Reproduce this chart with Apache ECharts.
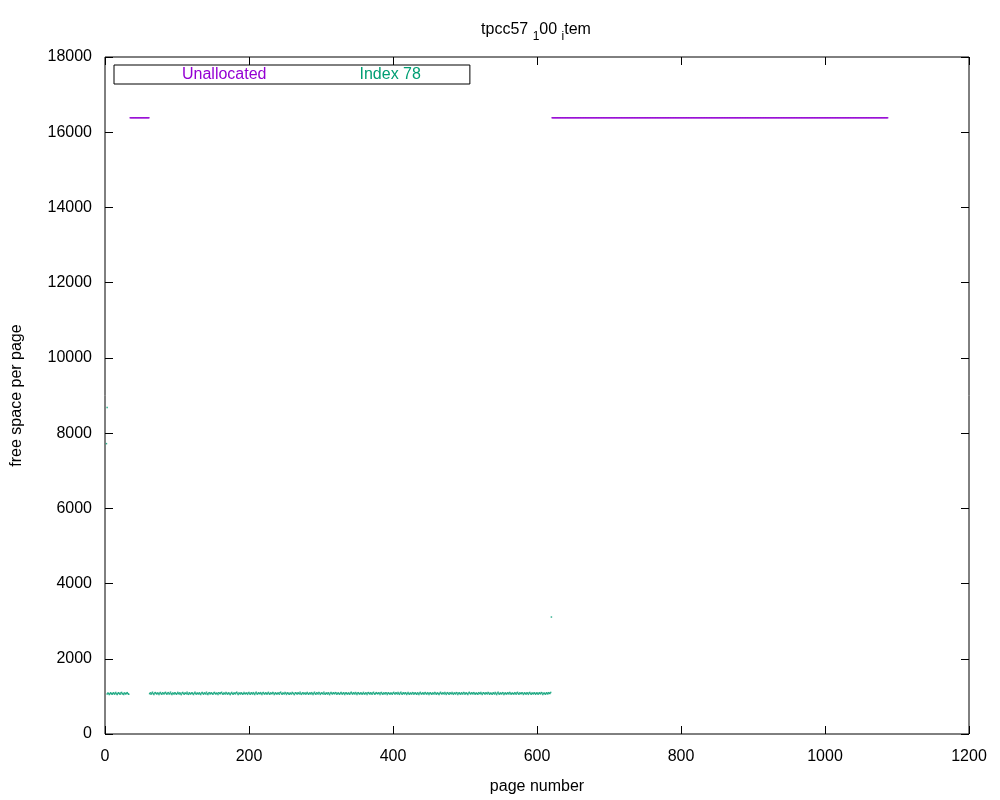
<!DOCTYPE html>
<html>
<head>
<meta charset="utf-8">
<script src="https://cdn.jsdelivr.net/npm/echarts@6/dist/echarts.min.js"></script>
<style>html,body{margin:0;padding:0;background:#fff}#c{width:1000px;height:800px}</style>
</head>
<body>
<div id="c"></div>
<script>
// ---- data ----
var xTicks = [0, 200, 400, 600, 800, 1000, 1200];
var yTicks = [0, 2000, 4000, 6000, 8000, 10000, 12000, 14000, 16000, 18000];

// Unallocated pages (free space 16384 on each page of these page ranges)
var unallocatedRanges = [[35, 61], [621, 1087]];
var unallocatedValue = 16384;

// Index 78: first segment starts at page 3, second at page 62
var index78StartA = 3;
var index78ValuesA = [1065,1090,1075,1050,1080,1100,1070,1055,1085,1095,1060,1078,1102,1068,1049,1083,1097,1072,1058,1088,1105,1066,1079,1051,1092,1074,1061,1086,1099,1070,1057];
var index78StartB = 62;
var index78ValuesB = [
1072,1095,1060,1084,1110,1068,1052,1089,1101,1075,1063,1092,1079,1048,1086,1104,1071,1059,1097,1082,
1066,1093,1108,1074,1055,1087,1099,1062,1080,1112,1069,1051,1090,1077,1064,1098,1085,1058,1073,1106,
1081,1061,1094,1070,1047,1088,1102,1076,1057,1091,1083,1067,1109,1072,1054,1096,1079,1063,1087,1100,
1068,1050,1085,1107,1074,1060,1093,1080,1065,1097,1071,1053,1089,1103,1077,1058,1092,1084,1066,1110,
1073,1049,1086,1098,1062,1081,1095,1069,1056,1090,1105,1075,1061,1088,1078,1052,1099,1083,1067,1094,
1108,1070,1055,1091,1079,1064,1101,1087,1059,1076,1096,1068,1048,1085,1104,1072,1060,1093,1082,1065,
1098,1111,1074,1051,1089,1080,1063,1097,1086,1057,1071,1102,1077,1066,1092,1083,1054,1088,1106,1069,
1058,1094,1081,1062,1099,1075,1050,1087,1109,1073,1061,1095,1084,1067,1100,1078,1053,1090,1103,1071,
1064,1096,1082,1056,1085,1107,1072,1059,1093,1080,1068,1101,1088,1049,1076,1097,1070,1062,1091,1084,
1055,1098,1112,1074,1060,1089,1079,1066,1102,1086,1052,1083,1095,1069,1057,1092,1078,1063,1105,1087,
1071,1048,1090,1100,1075,1061,1094,1081,1067,1108,1073,1054,1088,1097,1065,1079,1093,1059,1084,1104,
1070,1056,1091,1083,1062,1099,1077,1050,1086,1110,1068,1060,1096,1082,1064,1101,1089,1053,1076,1093,
1080,1066,1107,1072,1058,1092,1085,1061,1098,1079,1047,1087,1103,1074,1063,1095,1081,1068,1100,1088,
1055,1077,1094,1069,1059,1090,1106,1073,1062,1097,1083,1051,1085,1099,1071,1064,1093,1078,1057,1089,
1109,1075,1060,1096,1084,1066,1102,1080,1052,1088,1098,1070,1061,1092,1086,1054,1079,1105,1073,1065,
1094,1082,1049,1087,1101,1074,1063,1097,1078,1058,1091,1108,1071,1056,1085,1100,1076,1067,1095,1083,
1053,1089,1104,1072,1060,1093,1081,1066,1099,1087,1050,1084,1096,1069,1062,1092,1079,1057,1090,1106,
1074,1061,1097,1085,1064,1101,1077,1055,1088,1110,1070,1059,1094,1083,1065,1098,1086,1051,1080,1103,
1072,1058,1091,1079,1063,1100,1089,1054,1082,1095,1068,1060,1096,1076,1048,1087,1107,1073,1066,1093,
1084,1056,1090,1102,1071,1062,1098,1081,1052,1085,1097,1067,1059,1092,1080,1064,1104,1088,1057,1078,
1095,1070,1049,1086,1109,1075,1061,1093,1083,1065,1101,1079,1053,1089,1099,1072,1058,1094,1082,1068,
1106,1077,1055,1091,1085,1063,1100,1087,1051,1080,1096,1069,1060,1097,1078,1066,1103,1090,1056,1083,
1094,1071,1050,1088,1108,1074,1062,1095,1081,1064,1099,1086,1054,1079,1092,1067,1059,1098,1084,1070,
1105,1076,1052,1089,1097,1073,1061,1094,1082,1065,1102,1088,1057,1077,1093,1068,1058,1096,1085,1063,
1101,1079,1048,1087,1110,1072,1060,1092,1080,1066,1099,1090,1053,1075,1095,1069,1061,1097,1083,1064,
1104,1086,1055,1078,1091,1071,1062,1098,1084,1058,1089,1107,1073,1059,1093,1081,1067,1100,1088,1052,
1076,1096,1070,1063,1094,1082,1054,1087,1103,1074,1060,1091,1079,1065,1099,1085,1056,1080,1097,1068,
1062,1095,1083,1066,1101,1089,1051,1077,1092,1071,1059,1096,1084,1064,1098,1086,1074,1105];
// isolated Index 78 pages [page, free space]
var index78Extra = [[2, 7720], [3, 8680], [620, 3110]];

// ---- build series data ----
var unallocData = [];
unallocatedRanges.forEach(function (r) {
  for (var p = r[0]; p <= r[1]; p++) unallocData.push([p, unallocatedValue]);
});
var idxData = [];
index78ValuesA.forEach(function (v, i) { idxData.push([index78StartA + i, v]); });
index78ValuesB.forEach(function (v, i) { idxData.push([index78StartB + i, v]); });
index78Extra.forEach(function (d) { idxData.push(d); });

var FONT = 'Liberation Sans';
var chart = echarts.init(document.getElementById('c'), null, {renderer: 'canvas'});
function tickStyle() { return {show: true, inside: true, length: 8, lineStyle: {color: '#000', width: 1}}; }
function noLine() { return {show: false, onZero: false}; }
function plain(v) { return String(v); }
chart.setOption({
  animation: false,
  backgroundColor: '#fff',
  textStyle: {fontFamily: FONT},
  title: {
    text: '{n|tpcc57 }{s|1}{n|00 }{s|i}{n|tem}',
    left: 531, top: 17, textAlign: 'center',
    textStyle: {
      fontWeight: 'normal',
      rich: {
        n: {fontFamily: FONT, fontSize: 16, fontWeight: 'normal', color: '#000', lineHeight: 22, verticalAlign: 'top'},
        s: {fontFamily: FONT, fontSize: 12, fontWeight: 'normal', color: '#000', lineHeight: 22, padding: [9, 0, 0, 0], verticalAlign: 'top'}
      }
    }
  },
  legend: {
    left: 114, top: 65,
    orient: 'horizontal',
    icon: 'rect', itemWidth: 0, itemHeight: 0,
    itemGap: 88,
    padding: [2, 49, 1, 63],
    borderColor: '#000', borderWidth: 1, borderRadius: 0,
    data: [
      {name: 'Unallocated', textStyle: {color: '#9400d3'}},
      {name: 'Index 78', textStyle: {color: '#009e73'}}
    ],
    textStyle: {fontFamily: FONT, fontSize: 16}
  },
  grid: {left: 105, right: 31, top: 57, bottom: 65, show: true, borderColor: '#000', borderWidth: 1, backgroundColor: 'transparent'},
  xAxis: [{
    type: 'value', min: xTicks[0], max: xTicks[xTicks.length - 1], interval: 200,
    name: 'page number', nameLocation: 'middle', nameGap: 45,
    nameTextStyle: {fontFamily: FONT, fontSize: 16, color: '#000'},
    axisLine: noLine(), axisTick: tickStyle(), splitLine: {show: false},
    axisLabel: {fontFamily: FONT, fontSize: 16, color: '#000', margin: 15, formatter: plain}
  }, {
    type: 'value', position: 'top', min: xTicks[0], max: xTicks[xTicks.length - 1], interval: 200,
    axisLine: noLine(), axisTick: tickStyle(), splitLine: {show: false}, axisLabel: {show: false}
  }],
  yAxis: [{
    type: 'value', min: yTicks[0], max: yTicks[yTicks.length - 1], interval: 2000,
    name: 'free space per page', nameLocation: 'middle', nameGap: 80, nameRotate: 90,
    nameTextStyle: {fontFamily: FONT, fontSize: 16, color: '#000'},
    axisLine: noLine(), axisTick: tickStyle(), splitLine: {show: false},
    axisLabel: {fontFamily: FONT, fontSize: 16, color: '#000', margin: 13, formatter: plain}
  }, {
    type: 'value', position: 'right', min: yTicks[0], max: yTicks[yTicks.length - 1], interval: 2000,
    axisLine: noLine(), axisTick: tickStyle(), splitLine: {show: false}, axisLabel: {show: false}
  }],
  series: [{
    name: 'Unallocated', type: 'scatter', symbol: 'rect', symbolSize: [1.5, 1.5],
    itemStyle: {color: '#9400d3'}, data: unallocData, xAxisIndex: 0, yAxisIndex: 0
  }, {
    name: 'Index 78', type: 'scatter', symbol: 'rect', symbolSize: [1.5, 1.5],
    itemStyle: {color: '#009e73'}, data: idxData, xAxisIndex: 0, yAxisIndex: 0
  }]
});
</script>
</body>
</html>
